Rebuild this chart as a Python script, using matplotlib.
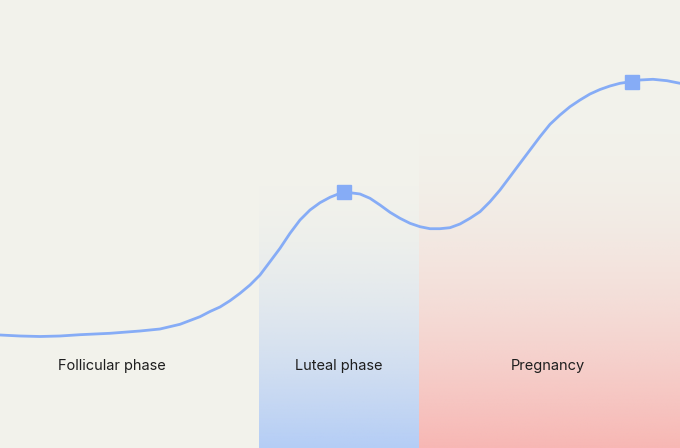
import numpy as np
import matplotlib
matplotlib.use("Agg")
import matplotlib.pyplot as plt
from matplotlib.colors import to_rgb

curve_x = [0, 20, 40, 60, 80, 110, 140, 160, 180, 200, 210, 220, 230, 240, 250, 260,
           270, 280, 290, 300, 310, 320, 330, 340, 350, 360, 370, 380, 390, 400, 410,
           420, 430, 440, 450, 460, 470, 480, 490, 500, 510, 520, 530, 540, 550, 560,
           570, 580, 590, 600, 610, 620, 632, 640, 653, 667, 680]
curve_y = [113, 112, 111.5, 112, 113.3, 114.7, 117, 119, 123.7, 131.3, 136.5, 141, 147.3,
           154.7, 163, 173, 186.3, 199.7, 214.7, 228, 238, 245.3, 250.7, 254.7, 255.3,
           254, 249.7, 243, 235.7, 229.7, 224.7, 221.3, 219.3, 219.3, 220.3, 224, 229.7,
           236.3, 246.3, 258, 271.3, 284.7, 298, 311.3, 323.7, 333, 341.3, 348, 354,
           358.5, 362, 364.7, 366.5, 368, 368.7, 367.3, 364.7]

# peak markers
peak_x = [344, 632]
peak_y = [256, 366]

# phases
phase_names = ["Follicular phase", "Luteal phase", "Pregnancy"]
phase_start = [0, 259, 419]
phase_end = [259, 419, 680]
label_x = [112, 339, 548]
phase_colors = [None, "#b4cdf6", "#f8b7b4"]
phase_fade_top = [None, 275, 330]

bg = "#f2f2eb"
line_color = "#86acf6"

fig = plt.figure(figsize=(6.8, 4.48), dpi=100)
fig.patch.set_facecolor(bg)
ax = fig.add_axes([0, 0, 1, 1])
ax.set_facecolor(bg)
ax.set_xlim(0, 680)
ax.set_ylim(0, 448)
ax.axis("off")

for name, x0, x1, lx, col, top in zip(phase_names, phase_start, phase_end, label_x,
                                      phase_colors, phase_fade_top):
    if col is not None:
        n = 256
        t = np.linspace(1, 0, n)
        img = np.zeros((n, 1, 4))
        img[:, 0, :3] = to_rgb(col)
        img[:, 0, 3] = t ** 1.8
        ax.imshow(img, extent=(x0, x1, 0, top), origin="lower", aspect="auto", zorder=1,
                  interpolation="bilinear")
    ax.text(lx, 82, name, ha="center", va="center", fontsize=10.5,
            family="Inter", color="#1e1e1e", zorder=3)

ax.plot(curve_x, curve_y, color=line_color, lw=2.0, zorder=4, solid_capstyle="round",
        solid_joinstyle="round")
ax.plot(peak_x, peak_y, ls="none", marker="s", ms=9.5, color=line_color, zorder=5)

ax.set_xlim(0, 680)
ax.set_ylim(0, 448)

fig.savefig("out.png", dpi=100, facecolor=bg)
